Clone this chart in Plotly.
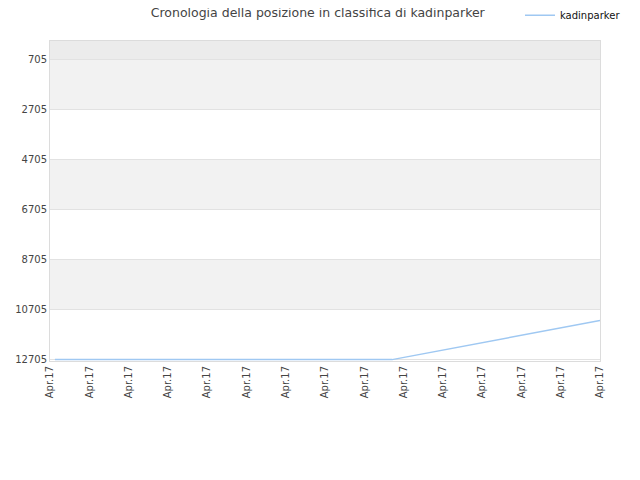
import plotly.graph_objects as go

# dati della classifica (posizione, asse invertito)
dates = ["2017-04-01 06:00", "2017-04-18 10:00", "2017-04-29 00:00"]
positions = [12705, 12705, 11145]

tick_dates = ["2017-04-%02d" % d for d in range(1, 30, 2)]
tick_labels = ["Apr.17"] * len(tick_dates)
y_ticks = [705, 2705, 4705, 6705, 8705, 10705, 12705]
y_labels = [str(v) for v in y_ticks]

fig = go.Figure()
fig.add_trace(go.Scatter(
    x=dates, y=positions, mode="lines", name="kadinparker",
    line=dict(color="#9fc8f2", width=1.5),
))

# bande alternate dello sfondo
bands = [(-15, 705, "#ececec"), (705, 2705, "#f2f2f2"), (4705, 6705, "#f2f2f2"),
         (8705, 10705, "#f2f2f2")]
for y0, y1, col in bands:
    fig.add_shape(type="rect", xref="paper", yref="y", x0=0, x1=1, y0=y0, y1=y1,
                  fillcolor=col, line_width=0, layer="below")

# la pagina ha un margine di 8px, quindi si compensa qui
fig.update_layout(
    width=640, height=480,
    title=dict(text="Cronologia della posizione in classifica di kadinparker",
               x=0.484, xanchor="center", yref="container", y=1, yanchor="top",
               pad=dict(t=0, b=0),
               font=dict(family="DejaVu Sans", size=12.5, color="#444")),
    font=dict(family="DejaVu Sans", size=10, color="#444"),
    margin=dict(l=42, r=48, t=33, b=127, autoexpand=False),
    paper_bgcolor="white", plot_bgcolor="white",
    showlegend=True,
    legend=dict(xref="container", yref="container", x=0.8, y=0.985,
                xanchor="left", yanchor="middle",
                font=dict(size=10, color="#111"), bgcolor="rgba(0,0,0,0)",
                itemwidth=30),
)
fig.update_xaxes(
    tickvals=tick_dates, ticktext=tick_labels, tickangle=-90,
    range=[tick_dates[0], tick_dates[-1]], automargin=False,
    showgrid=False, showline=True, linecolor="#dcdcdc", mirror=True,
    ticks="", tickfont=dict(size=10, color="#444"),
)
fig.update_yaxes(
    tickvals=y_ticks, ticktext=y_labels, range=[12760, -15], automargin=False,
    showgrid=True, gridcolor="#e2e2e2", zeroline=False,
    showline=True, linecolor="#dcdcdc", mirror=True,
    ticks="", tickfont=dict(size=10, color="#444"),
)

fig.write_html("out.html")
